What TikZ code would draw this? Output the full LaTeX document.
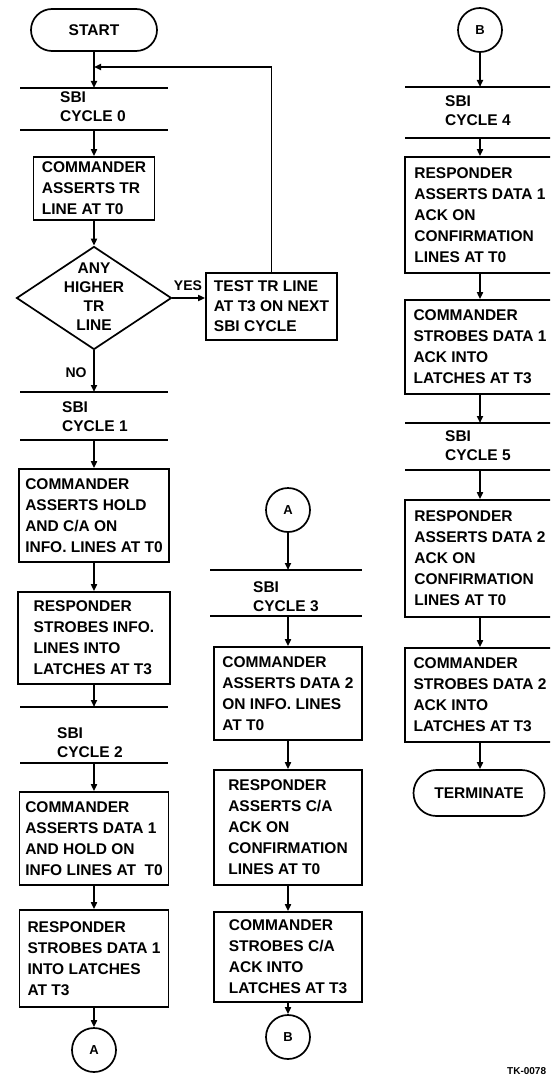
\documentclass[tikz,border=0pt]{standalone}
\usepackage{fontspec}
\setmainfont{Liberation Sans}
\usetikzlibrary{arrows.meta,shapes.geometric,shapes.misc}
\newcommand\fcfont{\fontsize{15.5}{21}\selectfont\bfseries}
\newcommand\fcmid{\fontsize{15.5}{20}\selectfont\bfseries}
\newcommand\fcsbi{\fontsize{15.5}{19}\selectfont\bfseries}
\begin{document}
\begin{tikzpicture}[x=1pt,y=-1pt,
  bar/.style={line width=1.8pt},
  arr/.style={line width=1.7pt,-{Triangle[length=7pt,width=6pt]}},
  box/.style={draw,line width=1.7pt,align=left,inner sep=0pt,font=\fcfont},
  term/.style={draw,line width=1.7pt,rounded rectangle,inner sep=0pt,font=\fcfont},
  circ/.style={draw,line width=1.7pt,circle,inner sep=0pt,minimum size=44pt,font=\fontsize{13}{15}\selectfont\bfseries},
  sbi/.style={anchor=west,align=left,inner sep=0pt,font=\fcsbi},
  lbl/.style={inner sep=0pt,font=\fontsize{14}{16}\selectfont\bfseries}]
\useasboundingbox (0,0) rectangle (550,1078);
\clip (0,0) rectangle (550,1078);

% ---------------- left column ----------------
\node[term,minimum width=126pt,minimum height=42pt] (start) at (94,30) {START};
\coordinate (jn) at (94,67);
\coordinate (b0t) at (94,88);
\coordinate (b0b) at (94,130);
\draw[bar] (20,88) -- (168,88);
\draw[bar] (20,130) -- (168,130);
\node[sbi] (s0) at (60,107) {SBI\\CYCLE 0};
\node[box,minimum width=121pt,minimum height=63pt] (c0) at (94,188.5) {COMMANDER\\ASSERTS TR\\LINE AT T0};
\node[draw,line width=1.7pt,diamond,inner sep=0pt,minimum width=155pt,minimum height=103pt] (dia) at (94,298) {};
\node[align=center,inner sep=0pt,font=\fcsbi] (diat) at (94,297) {ANY\\HIGHER\\TR\\LINE};
\node[box,font=\fcmid,minimum width=131pt,minimum height=67pt] (test) at (271.5,306.5) {TEST TR LINE\\AT T3 ON NEXT\\SBI CYCLE};
\node[lbl] (yes) at (188,286) {YES};
\node[lbl] (no) at (76,373) {NO};

\coordinate (b1t) at (94,392);
\coordinate (b1b) at (94,440);
\draw[bar] (20,392) -- (168,392);
\draw[bar] (20,440) -- (168,440);
\node[sbi] (s1) at (62,417) {SBI\\CYCLE 1};
\node[box,minimum width=150pt,minimum height=93pt] (c1) at (94,515.5) {COMMANDER\\ASSERTS HOLD\\AND C/A ON\\INFO. LINES AT T0};
\node[box,minimum width=152pt,minimum height=92pt] (r1) at (94,638) {RESPONDER\\STROBES INFO.\\LINES INTO\\LATCHES AT T3};

\coordinate (b2t) at (94,707);
\coordinate (b2b) at (94,763);
\draw[bar] (20,707) -- (168,707);
\draw[bar] (20,763) -- (168,763);
\node[sbi] (s2) at (57,743) {SBI\\CYCLE 2};
\node[box,minimum width=149pt,minimum height=93pt] (c2) at (94,838.5) {COMMANDER\\ASSERTS DATA 1\\AND HOLD ON\\INFO LINES AT\ \ T0};
\node[box,minimum width=149pt,minimum height=97pt] (r2) at (94,958.5) {RESPONDER\\STROBES DATA 1\\INTO LATCHES\\AT T3};
\node[circ] (a1) at (94,1050) {A};

\draw[arr] (start.south) -- (b0t);
\draw[arr] (test.north) |- (jn);
\draw[arr] (b0b) -- (c0.north);
\draw[arr] (c0.south) -- (dia.north);
\draw[arr] (dia.east) -- (dia.east -| test.west);
\draw[arr] (dia.south) -- (b1t);
\draw[arr] (b1b) -- (c1.north);
\draw[arr] (c1.south) -- (r1.north);
\draw[arr] (r1.south) -- (b2t);
\draw[arr] (b2b) -- (c2.north);
\draw[arr] (c2.south) -- (r2.north);
\draw[arr] (r2.south) -- (a1.north);

% ---------------- middle column ----------------
\node[circ] (a2) at (288,510) {A};
\coordinate (b3t) at (288,570);
\coordinate (b3b) at (288,616);
\draw[bar] (210,570) -- (362,570);
\draw[bar] (210,616) -- (362,616);
\node[sbi] (s3) at (253,597) {SBI\\CYCLE 3};
\node[box,minimum width=148pt,minimum height=93pt] (c3) at (288,693.5) {COMMANDER\\ASSERTS DATA 2\\ON INFO. LINES\\AT T0};
\node[box,minimum width=148pt,minimum height=115pt] (r3) at (288,827.5) {RESPONDER\\ASSERTS C/A\\ACK ON\\CONFIRMATION\\LINES AT T0};
\node[box,minimum width=148pt,minimum height=90pt] (c4) at (288,957) {COMMANDER\\STROBES C/A\\ACK INTO\\LATCHES AT T3};
\node[circ] (bb1) at (288,1037) {B};

\draw[arr] (a2.south) -- (b3t);
\draw[arr] (b3b) -- (c3.north);
\draw[arr] (c3.south) -- (r3.north);
\draw[arr] (r3.south) -- (c4.north);
\draw[arr] (c4.south) -- (bb1.north);

% ---------------- right column ----------------
\node[circ] (bb2) at (480,30) {B};
\coordinate (b4t) at (480,87);
\coordinate (b4b) at (480,138);
\draw[bar] (405,87) -- (560,87);
\draw[bar] (405,138) -- (560,138);
\node[sbi] (s4) at (445,111) {SBI\\CYCLE 4};
\node[box,minimum width=150pt,minimum height=116pt] (r4) at (480,215) {RESPONDER\\ASSERTS DATA 1\\ACK ON\\CONFIRMATION\\LINES AT T0};
\node[box,minimum width=150pt,minimum height=94pt] (c5) at (480,347) {COMMANDER\\STROBES DATA 1\\ACK INTO\\LATCHES AT T3};
\coordinate (b5t) at (480,423);
\coordinate (b5b) at (480,470);
\draw[bar] (405,423) -- (560,423);
\draw[bar] (405,470) -- (560,470);
\node[sbi] (s5) at (445,446) {SBI\\CYCLE 5};
\node[box,minimum width=150pt,minimum height=117pt] (r5) at (480,558.5) {RESPONDER\\ASSERTS DATA 2\\ACK ON\\CONFIRMATION\\LINES AT T0};
\node[box,minimum width=150pt,minimum height=94pt] (c6) at (480,695) {COMMANDER\\STROBES DATA 2\\ACK INTO\\LATCHES AT T3};
\node[term,minimum width=131pt,minimum height=46pt] (term) at (479,793) {TERMINATE};

\draw[arr] (bb2.south) -- (b4t);
\draw[arr] (b4b) -- (r4.north);
\draw[arr] (r4.south) -- (c5.north);
\draw[arr] (c5.south) -- (b5t);
\draw[arr] (b5b) -- (r5.north);
\draw[arr] (r5.south) -- (c6.north);
\draw[arr] (c6.south) -- (c6.south |- term.north);

\node[anchor=west,inner sep=0pt,font=\fontsize{10}{12}\selectfont\bfseries] (tk) at (507,1071) {TK-0078};
\end{tikzpicture}
\end{document}
